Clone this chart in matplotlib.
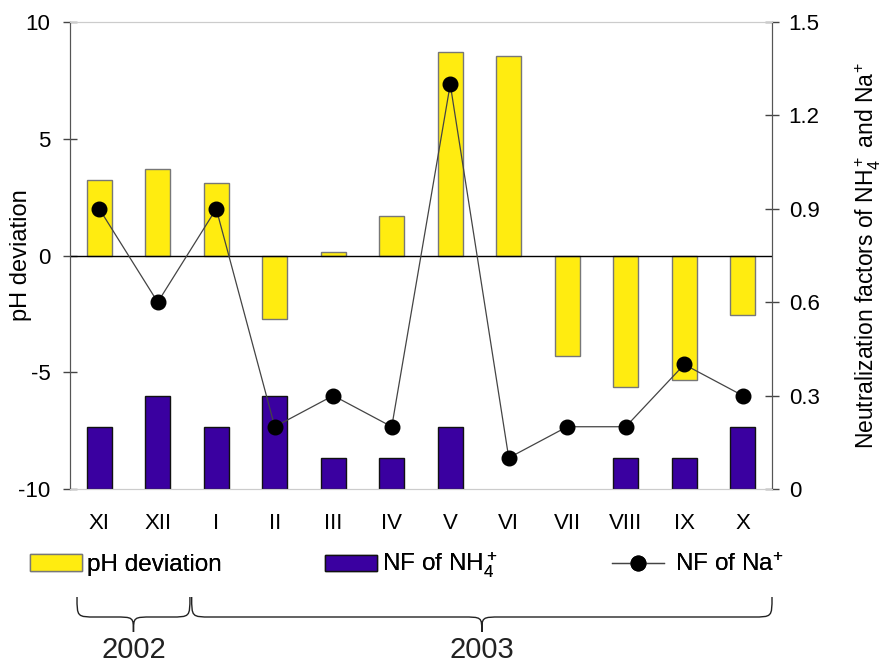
"""Monthly pH deviation with NF of NH4+ and Na+ (XI 2002 - X 2003)."""

import matplotlib

matplotlib.use("Agg")
import matplotlib.pyplot as plt  # noqa: E402
import matplotlib.transforms as mtransforms  # noqa: E402
from matplotlib.lines import Line2D  # noqa: E402
from matplotlib.patches import Patch, PathPatch  # noqa: E402
from matplotlib.path import Path  # noqa: E402
import numpy as np  # noqa: E402

plt.rcParams["font.family"] = ["Liberation Sans", "DejaVu Sans"]
plt.rcParams["mathtext.fontset"] = "custom"
plt.rcParams["mathtext.rm"] = "Liberation Sans"
plt.rcParams["mathtext.it"] = "Liberation Sans"
plt.rcParams["axes.unicode_minus"] = False

months = ["XI", "XII", "I", "II", "III", "IV", "V", "VI", "VII", "VIII", "IX", "X"]
ph_dev = [3.25, 3.7, 3.1, -2.7, 0.17, 1.71, 8.7, 8.55, -4.3, -5.65, -5.35, -2.55]
nf_nh4 = [0.2, 0.3, 0.2, 0.3, 0.1, 0.1, 0.2, 0.0, 0.0, 0.1, 0.1, 0.2]
nf_na = [0.9, 0.6, 0.9, 0.2, 0.3, 0.2, 1.3, 0.1, 0.2, 0.2, 0.4, 0.3]
years = ["2002", "2003"]
year_spans = [(0, 1), (2, 11)]  # first and last month index of each year

YELLOW = "#FFEC10"
BLUE = "#3A00A0"
W, H = 883, 663


def brace(fig, ax, x0, x1, y_top, y_mid, y_tip, r=0.33):
    # x in data units, y in pixels from the top of the figure
    tr = mtransforms.blended_transform_factory(ax.transData, fig.transFigure)
    f = lambda yp: 1 - yp / H  # noqa: E731
    xm = (x0 + x1) / 2
    verts = [
        (x0, f(y_top)), (x0, f(y_mid)), (x0, f(y_mid)), (x0 + r, f(y_mid)),
        (xm - r, f(y_mid)), (xm, f(y_mid)), (xm, f(y_mid)), (xm, f(y_tip)),
        (xm, f(y_mid)), (xm, f(y_mid)), (xm + r, f(y_mid)),
        (x1 - r, f(y_mid)), (x1, f(y_mid)), (x1, f(y_mid)), (x1, f(y_top)),
    ]
    codes = [Path.MOVETO, Path.CURVE4, Path.CURVE4, Path.CURVE4,
             Path.LINETO, Path.CURVE4, Path.CURVE4, Path.CURVE4,
             Path.CURVE4, Path.CURVE4, Path.CURVE4,
             Path.LINETO, Path.CURVE4, Path.CURVE4, Path.CURVE4]
    fig.add_artist(PathPatch(Path(verts, codes), transform=tr, fill=False,
                             lw=1.0, color="#222", clip_on=False))


def main() -> None:
    fig = plt.figure(figsize=(W / 100, H / 100), dpi=100)
    ax = fig.add_axes([70 / W, 1 - 489 / H, 702 / W, 467 / H])
    ax2 = ax.twinx()
    x = np.arange(len(months)) + 0.5

    ax.bar(x, ph_dev, width=0.43, color=YELLOW, edgecolor="#777", lw=1.0, zorder=2)
    ax.axhline(0, color="black", lw=1.0, zorder=3)
    ax.set_ylim(-10, 10)
    ax.set_xlim(0, len(months))
    ax.set_yticks([-10, -5, 0, 5, 10])
    ax.set_ylabel("pH deviation", fontsize=17)
    ax.yaxis.set_label_coords(-0.054, 0.5)
    ax.set_xticks(x)
    ax.set_xticklabels(months)
    ax.tick_params(axis="x", length=0, pad=17, labelsize=16)
    ax.tick_params(axis="y", direction="inout", length=10, width=1.0,
                   color="#444", pad=9, labelsize=16)

    nh4 = np.array(nf_nh4)
    edges = ["#111" if v > 0 else "none" for v in nh4]
    ax2.bar(x, nh4, width=0.43, color=BLUE, edgecolor=edges, lw=1.0, zorder=2)
    ax2.plot(x, nf_na, color="#444", lw=0.9, marker="o", ms=10.5,
             mfc="black", mec="black", zorder=4)
    ax2.set_ylim(0, 1.5)
    ax2.set_yticks([0, 0.3, 0.6, 0.9, 1.2, 1.5])
    ax2.set_yticklabels(["0", "0.3", "0.6", "0.9", "1.2", "1.5"])
    ax2.set_ylabel(r"Neutralization factors of $\mathrm{NH}_4^+$ and $\mathrm{Na}^{\!+}$",
                   fontsize=16.5)
    ax2.yaxis.set_label_coords(1.116, 0.5)
    ax2.tick_params(axis="y", direction="inout", length=10, width=1.0,
                    color="#444", pad=7, labelsize=16)

    for a in (ax, ax2):
        a.spines["left"].set_color("#555")
        a.spines["right"].set_color("#555")
        a.spines["top"].set_color("#ccc")
        a.spines["bottom"].set_color("#ccc")

    # legend row
    handles = [
        Patch(facecolor=YELLOW, edgecolor="#777", lw=1.0),
        Patch(facecolor=BLUE, edgecolor="#111", lw=1.0),
        Line2D([], [], color="#444", lw=0.9, marker="o", ms=10.5, mfc="black", mec="black"),
    ]
    labels = ["pH deviation", r"NF of $\mathrm{NH}_4^+$", r"NF of $\mathrm{Na}^{\!+}$"]
    pads = [0.2, 0.2, 0.45]
    for h, lab, xp, tp in zip(handles, labels, [30, 325, 612], pads):
        leg = fig.legend([h], [lab], loc="center left", bbox_to_anchor=(xp / W, 1 - 565 / H),
                         frameon=False, fontsize=17.5, handlelength=2.15, handleheight=0.65,
                         handletextpad=tp, borderpad=0, borderaxespad=0)
        fig.add_artist(leg)

    # year braces
    tr = mtransforms.blended_transform_factory(ax.transData, fig.transFigure)
    for yr, (i0, i1) in zip(years, year_spans):
        x0 = x[i0] - (0.38 if i0 == 0 else 0.42)
        x1 = x[i1] + (0.55 if i1 == 1 else 0.5)
        brace(fig, ax, x0, x1, 597, 617, 632)
        fig.text((x0 + x1) / 2, 1 - 650 / H, yr, transform=tr, ha="center",
                 va="center", fontsize=21, color="#222")

    fig.savefig("out.png", dpi=100)


if __name__ == "__main__":
    main()
